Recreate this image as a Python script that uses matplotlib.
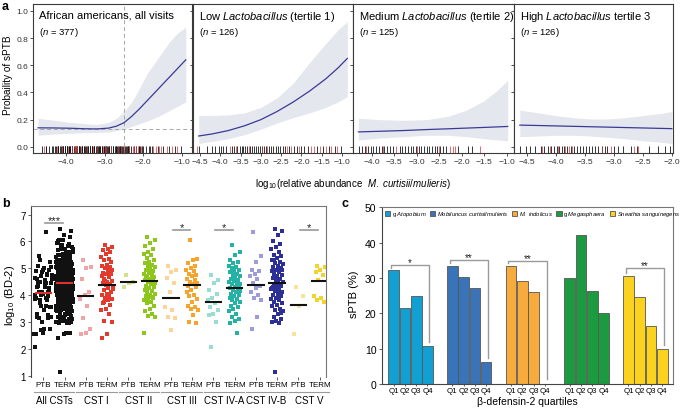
import matplotlib
matplotlib.use('Agg')
import matplotlib.pyplot as plt
import matplotlib.transforms as mtransforms

plt.rcParams['font.family'] = ['Liberation Sans', 'DejaVu Sans']
plt.rcParams['mathtext.fontset'] = 'custom'
plt.rcParams['mathtext.rm'] = 'Liberation Sans'
plt.rcParams['mathtext.it'] = 'Liberation Sans:italic'
plt.rcParams['mathtext.bf'] = 'Liberation Sans:bold'
plt.rcParams['axes.linewidth'] = 0.8

W, H = 680, 410

# ---------------- panel a data ----------------
facet_titles = ['African americans, all visits',
                r'Low $\mathit{Lactobacillus}$ (tertile 1)',
                r'Medium $\mathit{Lactobacillus}$ (tertile 2)',
                r'High $\mathit{Lactobacillus}$ tertile 3']
facet_n = [377, 126, 125, 126]
facet_xlim = [(-4.86, -0.74), (-4.67, -0.73), (-4.42, -0.84), (-4.72, -1.98)]
facet_xticks = [[-4.0, -3.0, -2.0, -1.0],
                [-4.5, -4.0, -3.5, -3.0, -2.5, -2.0, -1.5, -1.0],
                [-4.0, -3.5, -3.0, -2.5, -2.0, -1.5, -1.0],
                [-4.5, -4.0, -3.5, -3.0, -2.5, -2.0]]

x1 = [-4.73, -4.3, -3.9, -3.5, -3.2, -2.9, -2.7, -2.5, -2.3, -2.1, -1.9, -1.6, -1.3, -1.1, -0.9]
fit1 = [0.140, 0.139, 0.137, 0.133, 0.132, 0.138, 0.152, 0.178, 0.225, 0.28, 0.34, 0.43, 0.52, 0.58, 0.64]
hi1 = [0.21, 0.195, 0.18, 0.17, 0.165, 0.18, 0.21, 0.26, 0.33, 0.43, 0.54, 0.66, 0.78, 0.84, 0.88]
lo1 = [0.085, 0.095, 0.10, 0.105, 0.105, 0.11, 0.12, 0.13, 0.15, 0.17, 0.19, 0.225, 0.27, 0.30, 0.33]

x2 = [-4.53, -4.2, -3.8, -3.4, -3.0, -2.6, -2.2, -1.8, -1.4, -1.1, -0.87]
fit2 = [0.08, 0.095, 0.12, 0.155, 0.20, 0.26, 0.33, 0.41, 0.50, 0.58, 0.65]
hi2 = [0.23, 0.23, 0.235, 0.25, 0.29, 0.36, 0.47, 0.62, 0.76, 0.86, 0.92]
lo2 = [0.025, 0.04, 0.06, 0.09, 0.13, 0.175, 0.215, 0.25, 0.29, 0.33, 0.37]

x3 = [-4.3, -3.8, -3.3, -2.8, -2.3, -1.9, -1.5, -1.2, -0.98]
fit3 = [0.11, 0.115, 0.12, 0.127, 0.133, 0.138, 0.143, 0.147, 0.15]
hi3 = [0.21, 0.20, 0.195, 0.20, 0.225, 0.27, 0.34, 0.42, 0.49]
lo3 = [0.05, 0.065, 0.075, 0.085, 0.085, 0.075, 0.06, 0.05, 0.045]

x4 = [-4.62, -4.3, -4.0, -3.7, -3.4, -3.1, -2.8, -2.5, -2.2, -2.0]
fit4 = [0.16, 0.157, 0.154, 0.151, 0.148, 0.145, 0.142, 0.139, 0.136, 0.134]
hi4 = [0.27, 0.25, 0.23, 0.215, 0.205, 0.205, 0.215, 0.23, 0.245, 0.26]
lo4 = [0.075, 0.08, 0.085, 0.085, 0.08, 0.07, 0.06, 0.045, 0.035, 0.025]

# rug marks (term = black, sPTB = red)
rug2_black = [-4.52, -4.33, -4.21, -4.12, -4.03, -3.98, -3.93, -3.86, -3.71, -3.66, -3.58, -3.52,
              -3.47, -3.44, -3.38, -3.33, -3.27, -3.22, -3.18, -3.12, -3.07, -3.03, -2.97, -2.93,
              -2.88, -2.79, -2.74, -2.69, -2.63, -2.58, -2.52, -2.46, -2.41, -2.31, -2.19, -2.12,
              -2.02, -1.93, -1.84, -1.62, -1.48, -1.33, -1.18, -1.02]
rug2_red = [-4.58, -3.76, -3.62, -3.30, -2.98, -2.84, -2.36, -2.25, -2.07, -1.76, -1.68, -1.55,
            -1.40, -1.26, -1.12]
rug3_black = [-4.28, -4.22, -4.15, -4.08, -4.02, -3.97, -3.9, -3.85, -3.78, -3.72, -3.66, -3.6,
              -3.54, -3.38, -3.33, -3.27, -3.2, -3.14, -3.08, -3.03, -2.96, -2.9, -2.84, -2.78,
              -2.72, -2.66, -2.6, -2.55, -2.48, -2.42, -2.36, -2.08, -1.86, -1.78]
rug3_red = [-4.12, -3.75, -3.46, -3.0, -2.5, -2.26, -2.2, -2.15, -1.6]
rug4_black = [-4.62, -4.52, -4.44, -4.36, -4.26, -4.2, -4.14, -4.08, -4.03, -3.98, -3.94, -3.9,
              -3.86, -3.8, -3.74, -3.68, -3.64, -3.58, -3.53, -3.48, -3.43, -3.38, -3.33, -3.27,
              -3.21, -3.16, -3.12, -3.0, -2.92, -2.84, -2.7, -2.6, -2.4, -2.24, -2.12, -2.03]
rug4_red = [-4.24, -4.1, -3.96, -3.84, -3.78, -3.72, -3.2, -3.05, -2.66, -2.58]
# all visits = the three tertiles together
rug1_black = rug2_black + rug3_black + rug4_black
rug1_red = rug2_red + rug3_red + rug4_red

cut_x = -2.49
cut_y = 0.13

# ---------------- panel b data ----------------
cst_names = ['CST I', 'CST II', 'CST III', 'CST IV-A', 'CST IV-B', 'CST V']
ptb_vals = [
    [5.3, 5.05, 5.0, 4.6, 4.1, 4.0, 3.85, 3.6, 3.15, 2.75, 2.6, 2.55],
    [4.75, 4.5, 4.45, 4.3],
    [5.1, 4.95, 4.85, 4.65, 4.45, 4.1, 3.55, 3.45, 3.2, 3.15, 2.7],
    [4.75, 4.55, 4.45, 4.2, 4.05, 3.9, 3.8, 3.7, 3.55, 3.45, 3.3, 3.25, 3.0, 2.05],
    [6.35, 5.45, 5.25, 4.95, 4.9, 4.8, 4.7, 4.6, 4.45, 4.35, 4.25, 4.1, 4.0, 3.9, 3.8, 3.2, 2.75],
    [4.3, 3.95, 3.6, 2.55],
]
term_vals = [
    [5.85, 5.8, 5.72, 5.68, 5.6, 5.52, 5.41, 5.36, 5.3, 5.22, 5.14, 5.1, 5.03, 5.0, 4.93, 4.9,
     4.84, 4.8, 4.77, 4.7, 4.66, 4.6, 4.54, 4.5, 4.47, 4.42, 4.38, 4.31, 4.26, 4.2, 4.12, 4.05,
     4.0, 3.96, 3.9, 3.84, 3.8, 3.71, 3.62, 3.5, 3.44, 3.3, 3.05, 3.0, 2.55, 2.4, 4.82, 4.52,
     4.22, 5.02, 3.75],
    [6.15, 6.05, 5.93, 5.82, 5.7, 5.62, 5.55, 5.48, 5.4, 5.32, 5.25, 5.2, 5.14, 5.1, 5.03, 5.0,
     4.94, 4.9, 4.86, 4.8, 4.74, 4.7, 4.66, 4.6, 4.55, 4.52, 4.5, 4.46, 4.41, 4.35, 4.3, 4.26,
     4.2, 4.14, 4.1, 4.04, 4.0, 3.95, 3.9, 3.86, 3.8, 3.74, 3.7, 3.6, 3.5, 3.42, 3.3, 3.24, 3.2,
     3.92, 4.62, 4.42, 4.82, 2.6],
    [6.05, 5.35, 5.3, 5.2, 5.1, 5.0, 4.95, 4.9, 4.8, 4.75, 4.7, 4.6, 4.55, 4.5, 4.45, 4.4, 4.35,
     4.3, 4.2, 4.1, 4.0, 3.95, 3.85, 3.75, 3.6, 3.55, 3.5, 3.45, 3.25, 3.0, 2.95],
    [5.85, 5.6, 5.5, 5.3, 5.22, 5.18, 5.1, 5.05, 5.0, 4.95, 4.9, 4.85, 4.8, 4.75, 4.7, 4.65,
     4.6, 4.55, 4.52, 4.48, 4.45, 4.4, 4.35, 4.32, 4.28, 4.25, 4.2, 4.15, 4.1, 4.05, 4.0, 3.95,
     3.9, 3.85, 3.8, 3.75, 3.7, 3.6, 3.55, 3.5, 3.4, 3.3, 3.2, 3.1, 3.02, 2.98, 2.6, 4.62, 4.42,
     4.12],
    [6.45, 6.4, 6.25, 6.0, 5.9, 5.8, 5.7, 5.6, 5.5, 5.45, 5.4, 5.3, 5.25, 5.2, 5.15, 5.1, 5.05,
     5.0, 4.95, 4.9, 4.85, 4.8, 4.75, 4.7, 4.65, 4.6, 4.55, 4.5, 4.45, 4.4, 4.35, 4.3, 4.25,
     4.2, 4.15, 4.1, 4.05, 4.0, 3.95, 3.9, 3.85, 3.8, 3.75, 3.7, 3.65, 3.6, 3.5, 3.45, 3.4, 3.3,
     3.2, 3.1, 3.05, 3.0, 2.95, 1.15, 4.92, 4.62, 4.32, 5.02, 4.72, 4.22, 3.92, 5.32, 3.35],
    [5.1, 5.05, 4.95, 4.85, 4.75, 4.55, 3.95, 3.9, 3.8, 3.75],
]
# all CSTs pooled
all_ptb = [v for vals in ptb_vals for v in vals]
all_term = [v for vals in term_vals for v in vals]

group_names = ['All CSTs'] + cst_names
med_ptb = [4.09, 3.95, 4.48, 3.90, 3.75, 4.38, 3.62]
med_term = [4.46, 4.39, 4.51, 4.39, 4.27, 4.45, 4.51]
ptb_colors = ['#111111', '#f2a4a4', '#cfe38a', '#fdd39a', '#98dcd6', '#9c9cd8', '#f7e49a']
term_colors = ['#111111', '#e23b2e', '#8dc71e', '#f7a42c', '#24b1a6', '#2b2f96', '#f6d22e']
sig_groups = [0, 3, 4, 6]
sig_labels = ['***', '*', '*', '*']
sig_y = [6.69, 6.42, 6.42, 6.42]

# ---------------- panel c data ----------------
bac_names = [r'g $\mathit{Atopobium}$', r'$\mathit{Mobiluncus\ curtisii/mulieris}$',
             r'$\mathit{M.\ indolicus}$', r'g $\mathit{Megasphaera}$',
             r'$\mathit{Sneathia\ sanguinegens}$']
bac_colors = ['#12a0d3', '#3a74b8', '#f6ab3c', '#1c9a40', '#fbd31e']
quartiles = ['Q1', 'Q2', 'Q3', 'Q4']
sptb_vals = [[32.1, 21.4, 25.0, 10.7],
             [33.3, 30.3, 27.2, 6.1],
             [33.3, 29.1, 26.0, 0.0],
             [30.0, 42.1, 26.3, 20.0],
             [30.6, 24.6, 16.5, 9.8]]
bracket_h = [33.6, 35.0, 34.8, None, 32.8]
bracket_stars = ['*', '**', '**', '', '**']


def px_axes(fig, x0, y0, x1, y1):
    return fig.add_axes([x0 / W, 1 - y1 / H, (x1 - x0) / W, (y1 - y0) / H])


def minus(v):
    return ('%.1f' % v).replace('-', '\u2212')


def jitter(n, w):
    return [((i * 0.6180339887 + 0.3) % 1.0 - 0.5) * 2 * w for i in range(n)]


fig = plt.figure(figsize=(W / 100, H / 100), dpi=100)

# ---------------- panel a ----------------
facet_px = [(33, 192), (193, 353), (353, 514), (514, 673)]
curves = [(x1, fit1, lo1, hi1), (x2, fit2, lo2, hi2), (x3, fit3, lo3, hi3), (x4, fit4, lo4, hi4)]
rugs = [(rug1_black, rug1_red), (rug2_black, rug2_red), (rug3_black, rug3_red), (rug4_black, rug4_red)]

for i in range(4):
    ax = px_axes(fig, facet_px[i][0], 5, facet_px[i][1], 154)
    xs, fit, lo, hi = curves[i]
    ax.fill_between(xs, lo, hi, color='#e5e7ee', lw=0)
    if i == 0:
        ax.axvline(cut_x, color='#a8a8a8', lw=0.7, ls=(0, (4, 3)))
        ax.axhline(cut_y, color='#a8a8a8', lw=0.7, ls=(0, (4, 3)))
    ax.plot(xs, fit, color='#3a3a96', lw=0.9)
    blk, red = rugs[i]
    tr = ax.get_xaxis_transform()
    ax.vlines(blk, 0, 0.045, transform=tr, color='#151515', lw=0.6)
    ax.vlines(red, 0, 0.045, transform=tr, color='#d03a3a', lw=0.6, alpha=0.85)
    ax.set_xlim(facet_xlim[i])
    ax.set_ylim(-0.045, 1.05)
    ax.set_xticks(facet_xticks[i])
    ax.set_xticklabels([minus(v) for v in facet_xticks[i]])
    ax.set_yticks([0, 0.2, 0.4, 0.6, 0.8, 1.0])
    if i == 0:
        ax.set_yticklabels(['0.0', '0.2', '0.4', '0.6', '0.8', '1.0'])
    else:
        ax.set_yticklabels([])
    ax.tick_params(labelsize=6, length=2.2, width=0.6, pad=1.2, color='#333333', labelcolor='#333333')
    for s in ax.spines.values():
        s.set_color('#3a3a3a')
    ax.text(0.04, 0.965, facet_titles[i], transform=ax.transAxes, ha='left', va='top', fontsize=8)
    ax.text(0.04, 0.86, r'($\mathit{n}$ = %d)' % facet_n[i], transform=ax.transAxes,
            ha='left', va='top', fontsize=6.8)

fig.text(8 / W, 1 - 75 / H, 'Probaility of sPTB', rotation=90, ha='center', va='center', fontsize=7.2)
fig.text(353 / W, 1 - 184 / H, r'log$_{10}$(relative abundance  $\mathit{M.\ curtisii/mulieris}$)',
         ha='center', va='center', fontsize=7)

# ---------------- panel b ----------------
axb = px_axes(fig, 31, 207, 326, 378)
columns_ptb = [all_ptb] + ptb_vals
columns_term = [all_term] + term_vals
for g in range(7):
    xp, xt = 2 * g + 1, 2 * g + 2
    w = 0.42 if g == 0 else 0.28
    jp = jitter(len(columns_ptb[g]), w)
    jt = jitter(len(columns_term[g]), w)
    axb.scatter([xp + j for j in jp], columns_ptb[g], s=5, marker='s', color=ptb_colors[g], lw=0, zorder=2)
    axb.scatter([xt + j for j in jt], columns_term[g], s=5, marker='s', color=term_colors[g], lw=0, zorder=2)
    mcol = '#e0302a' if g == 0 else '#111111'
    axb.plot([xp - 0.36, xp + 0.36], [med_ptb[g], med_ptb[g]], color=mcol, lw=1.5, zorder=3)
    axb.plot([xt - 0.36, xt + 0.36], [med_term[g], med_term[g]], color=mcol, lw=1.5, zorder=3)

for g, lab, y in zip(sig_groups, sig_labels, sig_y):
    xp, xt = 2 * g + 1, 2 * g + 2
    axb.plot([xp + 0.08, xt - 0.08], [y, y], color='#9a9a9a', lw=1.2)
    axb.text((xp + xt) / 2, y, lab, ha='center', va='baseline', fontsize=8, color='#222222')

axb.set_xlim(0.42, 14.3)
axb.set_ylim(0.95, 7.32)
axb.set_yticks([1, 2, 3, 4, 5, 6, 7])
axb.set_xticks(list(range(1, 15)))
axb.set_xticklabels(['PTB', 'TERM'] * 7)
axb.tick_params(axis='x', labelsize=5.8, length=2, width=0.6, pad=1.2, color='#444444')
axb.tick_params(axis='y', labelsize=7, length=2.5, width=0.6, pad=1.5, color='#444444')
axb.spines['bottom'].set_visible(False)
axb.spines['left'].set_color('#444444')
axb.spines['top'].set_color('#777777')
axb.spines['right'].set_color('#777777')
trb = mtransforms.blended_transform_factory(axb.transData, axb.transAxes)
for g in range(7):
    xp, xt = 2 * g + 1, 2 * g + 2
    axb.plot([xp - 0.46, xt + 0.46], [-0.088, -0.088], transform=trb, color='#9a9a9a', lw=0.8, clip_on=False)
    axb.text((xp + xt) / 2, -0.137, group_names[g], transform=trb, ha='center', va='center', fontsize=7)
fig.text(10 / W, 1 - 295 / H, r'log$_{10}$ (BD-2)', rotation=90, ha='center', va='center', fontsize=8)

# ---------------- panel c ----------------
axc = px_axes(fig, 382, 207.5, 673, 385)
gap = 5.2
tick_x = []
for g in range(5):
    xs = [g * gap + q for q in range(4)]
    tick_x += xs
    axc.bar(xs, sptb_vals[g], width=0.94, color=bac_colors[g], edgecolor='#555555', lw=0.6,
            label=bac_names[g], zorder=2)
    if bracket_stars[g]:
        v = sptb_vals[g]
        h = bracket_h[g]
        bx0, bx1 = g * gap - 0.25, g * gap + 3 + 0.15
        axc.plot([bx0, bx0, bx1, bx1], [v[0] + 0.8, h, h, v[3] + 1.3], color='#9a9a9a', lw=1.0, zorder=3)
        axc.text((bx0 + bx1) / 2, h, bracket_stars[g], ha='center', va='baseline', fontsize=7, color='#222222')

axc.set_xlim(-1.03, 24.75)
axc.set_ylim(0, 50.2)
axc.set_yticks([0, 10, 20, 30, 40, 50])
axc.set_xticks(tick_x)
axc.set_xticklabels(quartiles * 5)
axc.tick_params(axis='x', labelsize=5.7, length=1.5, width=0.6, pad=1.0, color='#444444')
axc.tick_params(axis='y', labelsize=7.5, length=2.5, width=0.6, pad=1.5, color='#444444')
for s in ['top', 'right']:
    axc.spines[s].set_color('#777777')
for s in ['left', 'bottom']:
    axc.spines[s].set_color('#444444')
axc.set_xlabel('\u03b2-defensin-2 quartiles', fontsize=7.5, labelpad=1)
axc.legend(loc='upper left', bbox_to_anchor=(0.0, 1.0), ncol=5, fontsize=4.2, frameon=False,
           handlelength=0.9, handleheight=0.9, handletextpad=0.3, columnspacing=0.6,
           borderaxespad=0.25, borderpad=0.2)
fig.text(354 / W, 1 - 294 / H, 'sPTB (%)', rotation=90, ha='center', va='center', fontsize=8)

# panel letters
fig.text(2 / W, 1 - 1 / H, 'a', fontweight='bold', fontsize=9, ha='left', va='top')
fig.text(2 / W, 1 - 198 / H, 'b', fontweight='bold', fontsize=9, ha='left', va='top')
fig.text(342 / W, 1 - 198 / H, 'c', fontweight='bold', fontsize=9, ha='left', va='top')

fig.savefig('out.png', dpi=100)
